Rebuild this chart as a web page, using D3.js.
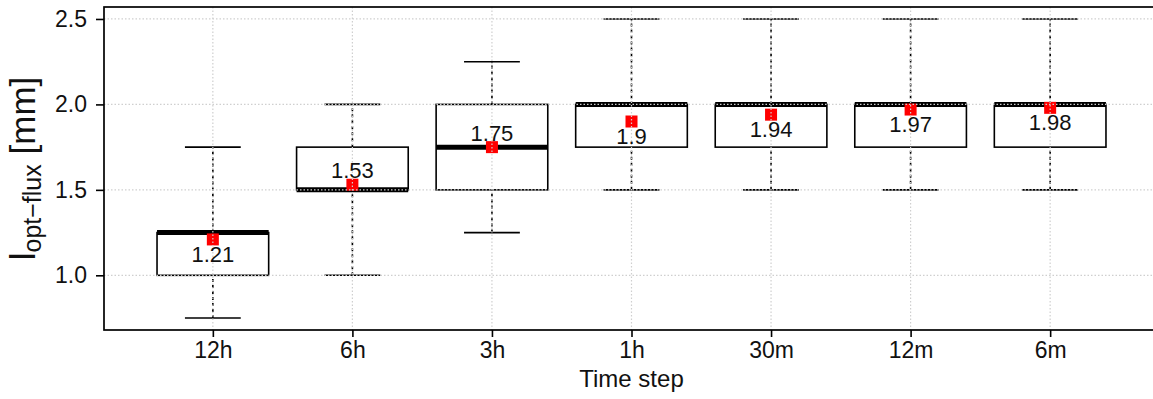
<!DOCTYPE html>
<html>
<head>
<meta charset="utf-8">
<script src="https://cdn.jsdelivr.net/npm/d3@7"></script>
<style>
  html, body { margin: 0; padding: 0; background: #fff; }
  svg { display: block; font-family: "Liberation Sans", Arial, Helvetica, sans-serif; }
</style>
</head>
<body>
<svg id="chart" width="1153" height="399"></svg>
<script>
// Optimal flux length per time step: box statistics and means
const categories  = ["12h", "6h", "3h", "1h", "30m", "12m", "6m"];
const whiskerLow  = [0.75, 1.0, 1.25, 1.5, 1.5, 1.5, 1.5];
const lowerQuart  = [1.0, 1.5, 1.5, 1.75, 1.75, 1.75, 1.75];
const medians     = [1.25, 1.5, 1.75, 2.0, 2.0, 2.0, 2.0];
const upperQuart  = [1.25, 1.75, 2.0, 2.0, 2.0, 2.0, 2.0];
const whiskerHigh = [1.75, 2.0, 2.25, 2.5, 2.5, 2.5, 2.5];
const means       = [1.21, 1.53, 1.75, 1.9, 1.94, 1.97, 1.98];
const yTicks      = [1.0, 1.5, 2.0, 2.5];

const svg = d3.select("#chart");

// Plot region (the frame runs past the right edge of the canvas)
const pLeft = 104, pRight = 1159, pTop = 7, pBottom = 330;

const x = d3.scaleLinear().domain([0.22, 7.78]).range([pLeft, pRight]);
const y = d3.scaleLinear().domain([0.68, 2.57]).range([pBottom, pTop]);
const pos = i => x(i + 1);
const boxHalf = x(1.4) - x(1);   // half of a 0.8-wide box
const capHalf = x(1.2) - x(1);   // half of a 0.4-wide whisker cap

const rows = categories.map((c, i) => ({
  c, i, lo: whiskerLow[i], q1: lowerQuart[i], med: medians[i],
  q3: upperQuart[i], hi: whiskerHigh[i], mean: means[i]
}));

const g = svg.append("g");

// Whiskers (dashed)
g.append("g").selectAll("line").data(rows).join("line")
  .attr("x1", d => pos(d.i)).attr("x2", d => pos(d.i))
  .attr("y1", d => y(d.lo)).attr("y2", d => y(d.q1))
  .attr("stroke", "#000").attr("stroke-width", 1.6).attr("stroke-dasharray", "3,3");
g.append("g").selectAll("line").data(rows).join("line")
  .attr("x1", d => pos(d.i)).attr("x2", d => pos(d.i))
  .attr("y1", d => y(d.q3)).attr("y2", d => y(d.hi))
  .attr("stroke", "#000").attr("stroke-width", 1.6).attr("stroke-dasharray", "3,3");

// Whisker caps
["lo", "hi"].forEach(k => {
  g.append("g").selectAll("line").data(rows).join("line")
    .attr("x1", d => pos(d.i) - capHalf).attr("x2", d => pos(d.i) + capHalf)
    .attr("y1", d => y(d[k])).attr("y2", d => y(d[k]))
    .attr("stroke", "#000").attr("stroke-width", 1.6);
});

// Boxes
g.append("g").selectAll("rect").data(rows).join("rect")
  .attr("x", d => pos(d.i) - boxHalf)
  .attr("width", boxHalf * 2)
  .attr("y", d => y(d.q3))
  .attr("height", d => y(d.q1) - y(d.q3))
  .attr("fill", "#fff").attr("stroke", "#000").attr("stroke-width", 1.6);

// Medians (thick)
g.append("g").selectAll("line").data(rows).join("line")
  .attr("x1", d => pos(d.i) - boxHalf).attr("x2", d => pos(d.i) + boxHalf)
  .attr("y1", d => y(d.med)).attr("y2", d => y(d.med))
  .attr("stroke", "#000").attr("stroke-width", 5);

// Means (red squares)
const sq = 12;
g.append("g").selectAll("rect").data(rows).join("rect")
  .attr("x", d => pos(d.i) - sq / 2).attr("y", d => y(d.mean) - sq / 2)
  .attr("width", sq).attr("height", sq).attr("fill", "#ff0000");

// Dotted grid drawn over the boxes
const grid = svg.append("g").attr("stroke", "#cfcfcf").attr("stroke-width", 1.2)
  .attr("stroke-dasharray", "1.5,2");
grid.append("g").selectAll("line").data(yTicks).join("line")
  .attr("x1", pLeft).attr("x2", pRight)
  .attr("y1", d => y(d)).attr("y2", d => y(d));
grid.append("g").selectAll("line").data(rows).join("line")
  .attr("x1", d => pos(d.i)).attr("x2", d => pos(d.i))
  .attr("y1", pTop).attr("y2", pBottom);

// Frame
svg.append("rect").attr("x", pLeft).attr("y", pTop)
  .attr("width", pRight - pLeft).attr("height", pBottom - pTop)
  .attr("fill", "none").attr("stroke", "#000").attr("stroke-width", 1.7);

// Axes
const yAxis = d3.axisLeft(y).tickValues(yTicks).tickFormat(d3.format(".1f"))
  .tickSize(8).tickPadding(9);
const yg = svg.append("g").attr("transform", `translate(${pLeft},0)`).call(yAxis);
const xAxis = d3.axisBottom(x).tickValues(rows.map(d => d.i + 1))
  .tickFormat((d, i) => categories[i]).tickSize(7).tickPadding(5);
const xg = svg.append("g").attr("transform", `translate(0,${pBottom})`).call(xAxis);
[yg, xg].forEach(a => {
  a.select(".domain").remove();
  a.selectAll(".tick line").attr("stroke", "#000").attr("stroke-width", 1.6);
  a.selectAll(".tick text").attr("fill", "#111").attr("font-size", 23)
    .attr("font-family", "Liberation Sans, Arial, sans-serif");
});
xg.selectAll(".tick text").attr("dy", "0.71em");

// Mean value labels, placed on the roomier side of the mean within the box
const off = 0.085;
svg.append("g").selectAll("text").data(rows).join("text")
  .attr("x", d => pos(d.i))
  .attr("y", d => {
    const below = (d.mean - d.q1) > (d.q3 - d.mean);
    return y(below ? d.mean - off : d.mean + off);
  })
  .attr("dy", "0.36em")
  .attr("text-anchor", "middle")
  .attr("font-size", 22).attr("fill", "#111")
  .text(d => String(d.mean));

// Axis titles
svg.append("text")
  .attr("x", (pLeft + pRight) / 2).attr("y", 387)
  .attr("text-anchor", "middle").attr("font-size", 24).attr("fill", "#111")
  .text("Time step");

const yt = svg.append("text")
  .attr("transform", `translate(35,${(pTop + pBottom) / 2}) rotate(-90)`)
  .attr("text-anchor", "middle").attr("fill", "#111");
yt.append("tspan").attr("font-size", 35).text("l");
yt.append("tspan").attr("font-size", 25).attr("dy", 6).text("opt\u2212flux");
yt.append("tspan").attr("font-size", 35).attr("dy", -6).text(" [mm]");
</script>
</body>
</html>
